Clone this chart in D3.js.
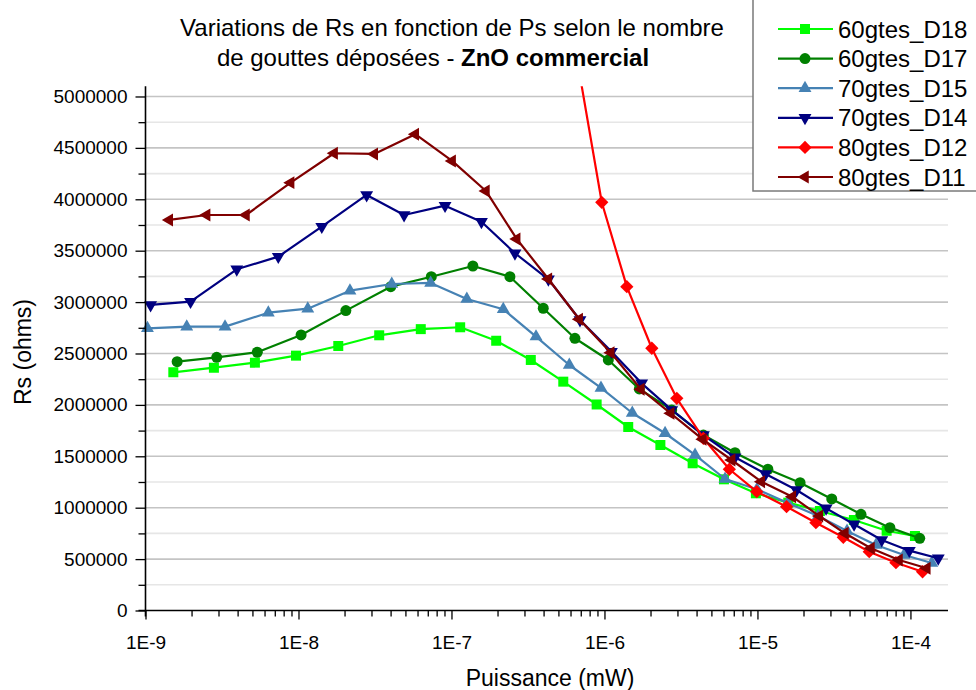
<!DOCTYPE html>
<html>
<head>
<meta charset="utf-8">
<script src="https://cdn.jsdelivr.net/npm/d3@7"></script>
<style>
  html, body { margin: 0; padding: 0; background: #fff; }
  svg { display: block; font-family: "Liberation Sans", Arial, sans-serif; }
</style>
</head>
<body>
<svg id="chart" width="976" height="690"></svg>
<script>
// ---------------- data ----------------
const seriesNames = ["60gtes_D18", "60gtes_D17", "70gtes_D15", "70gtes_D14", "80gtes_D12", "80gtes_D11"];

const pD18 = [1.52e-9, 2.80e-9, 5.19e-9, 9.63e-9, 1.82e-8, 3.37e-8, 6.30e-8, 1.14e-7, 1.96e-7, 3.30e-7, 5.38e-7, 8.89e-7, 1.43e-6, 2.32e-6, 3.77e-6, 6.04e-6, 9.77e-6, 1.59e-5, 2.56e-5, 4.27e-5, 6.99e-5, 1.07e-4];
const rD18 = [2317000, 2362000, 2411000, 2479000, 2573000, 2677000, 2737000, 2755000, 2624000, 2437000, 2226000, 2004000, 1785000, 1610000, 1432000, 1276000, 1140000, 1049000, 968000, 880000, 776000, 725000];

const pD17 = [1.61e-9, 2.92e-9, 5.38e-9, 1.04e-8, 2.04e-8, 4.01e-8, 7.38e-8, 1.38e-7, 2.41e-7, 3.98e-7, 6.41e-7, 1.06e-6, 1.69e-6, 2.75e-6, 4.43e-6, 7.13e-6, 1.17e-5, 1.90e-5, 3.06e-5, 4.75e-5, 7.34e-5, 1.15e-4];
const rD17 = [2420000, 2463000, 2512000, 2680000, 2917000, 3150000, 3247000, 3351000, 3247000, 2940000, 2648000, 2437000, 2155000, 1951000, 1707000, 1535000, 1374000, 1243000, 1085000, 936000, 806000, 702000];

const pD15 = [1.03e-9, 1.86e-9, 3.31e-9, 6.35e-9, 1.15e-8, 2.17e-8, 4.07e-8, 7.31e-8, 1.26e-7, 2.18e-7, 3.57e-7, 5.89e-7, 9.49e-7, 1.52e-6, 2.49e-6, 3.91e-6, 6.14e-6, 9.93e-6, 1.58e-5, 2.49e-5, 3.85e-5, 5.95e-5, 9.08e-5, 1.38e-4];
const rD15 = [2745000, 2761000, 2761000, 2897000, 2936000, 3111000, 3176000, 3186000, 3030000, 2930000, 2664000, 2388000, 2165000, 1921000, 1724000, 1513000, 1279000, 1180000, 1046000, 919000, 773000, 637000, 540000, 462000];

const pD14 = [1.08e-9, 1.97e-9, 3.95e-9, 7.38e-9, 1.42e-8, 2.79e-8, 4.90e-8, 9.08e-8, 1.57e-7, 2.60e-7, 4.30e-7, 6.92e-7, 1.11e-6, 1.75e-6, 2.75e-6, 4.43e-6, 7.13e-6, 1.13e-5, 1.80e-5, 2.81e-5, 4.28e-5, 6.49e-5, 9.83e-5, 1.52e-4];
const rD14 = [2972000, 3004000, 3319000, 3442000, 3734000, 4042000, 3847000, 3938000, 3782000, 3475000, 3222000, 2826000, 2518000, 2210000, 1951000, 1707000, 1490000, 1328000, 1172000, 994000, 839000, 686000, 582000, 508000];

const pD12 = [6.1e-7, 9.60e-7, 1.40e-6, 2.04e-6, 2.97e-6, 4.43e-6, 6.55e-6, 9.89e-6, 1.55e-5, 2.41e-5, 3.64e-5, 5.38e-5, 8.04e-5, 1.20e-4];
const rD12 = [5670000, 3971000, 3150000, 2551000, 2064000, 1675000, 1374000, 1156000, 1010000, 854000, 712000, 572000, 465000, 377000];

const pD11 = [1.43e-9, 2.51e-9, 4.54e-9, 8.89e-9, 1.71e-8, 3.13e-8, 5.80e-8, 1.01e-7, 1.68e-7, 2.67e-7, 4.30e-7, 6.84e-7, 1.10e-6, 1.73e-6, 2.71e-6, 4.39e-6, 6.78e-6, 1.06e-5, 1.69e-5, 2.54e-5, 3.73e-5, 5.52e-5, 8.42e-5, 1.28e-4];
const rD11 = [3799000, 3847000, 3847000, 4162000, 4448000, 4441000, 4633000, 4373000, 4081000, 3614000, 3225000, 2833000, 2508000, 2152000, 1918000, 1665000, 1464000, 1253000, 1107000, 919000, 751000, 605000, 491000, 411000];

const xTickValues = [1e-9, 1e-8, 1e-7, 1e-6, 1e-5, 1e-4];
const xTickLabels = ["1E-9", "1E-8", "1E-7", "1E-6", "1E-5", "1E-4"];
const yTickValues = [0, 500000, 1000000, 1500000, 2000000, 2500000, 3000000, 3500000, 4000000, 4500000, 5000000];
const yTickLabels = ["0", "500000", "1000000", "1500000", "2000000", "2500000", "3000000", "3500000", "4000000", "4500000", "5000000"];

const titleLine1 = "Variations de Rs en fonction de Ps selon le nombre";
const titleLine2a = "de gouttes déposées - ";
const titleLine2b = "ZnO commercial";
const xTitle = "Puissance (mW)";
const yTitle = "Rs (ohms)";

// ---------------- styles ----------------
const colors = ["#00ff00", "#008000", "#4682b4", "#000080", "#ff0000", "#800000"];
const markers = ["square", "circle", "triUp", "triDown", "diamond", "triLeft"];

const series = [
  { name: seriesNames[0], p: pD18, r: rD18 },
  { name: seriesNames[1], p: pD17, r: rD17 },
  { name: seriesNames[2], p: pD15, r: rD15 },
  { name: seriesNames[3], p: pD14, r: rD14 },
  { name: seriesNames[4], p: pD12, r: rD12 },
  { name: seriesNames[5], p: pD11, r: rD11 }
].map((s, i) => ({ ...s, color: colors[i], marker: markers[i],
  pts: s.p.map((v, j) => ({ x: v, y: s.r[j] })) }));

// ---------------- layout ----------------
const L = 145.5, R = 948, T = 86.2, B = 610.5;
const svg = d3.select("#chart");

const x = d3.scaleLog().domain([1e-9, 1.76e-4]).range([L, R]);
const y = d3.scaleLinear().domain([0, 5100000]).range([B, T]);

// gridlines
const minorY = d3.range(250000, 5100000, 500000);
svg.append("g").selectAll("line").data(minorY).join("line")
  .attr("x1", L).attr("x2", R).attr("y1", d => y(d)).attr("y2", d => y(d))
  .attr("stroke", "#e6e6e6").attr("stroke-width", 1.6);
svg.append("g").selectAll("line").data(yTickValues.slice(1)).join("line")
  .attr("x1", L).attr("x2", R).attr("y1", d => y(d)).attr("y2", d => y(d))
  .attr("stroke", "#c4c4c4").attr("stroke-width", 1.6);

// clip
svg.append("clipPath").attr("id", "plotclip").append("rect")
  .attr("x", L - 10).attr("y", T).attr("width", R - L + 20).attr("height", B - T + 10);

// symbols
function markerPath(type) {
  switch (type) {
    case "square": return d3.symbol().type(d3.symbolSquare).size(100)();
    case "circle": return d3.symbol().type(d3.symbolCircle).size(95)();
    case "diamond": return d3.symbol().type(d3.symbolSquare).size(88)();
    default: return d3.symbol().type(d3.symbolTriangle).size(72)();
  }
}
function markerRot(type) {
  if (type === "diamond") return 45;
  if (type === "triDown") return 180;
  if (type === "triLeft") return -90;
  return 0;
}

const plot = svg.append("g").attr("clip-path", "url(#plotclip)");
const line = d3.line().x(d => x(d.x)).y(d => y(d.y));

series.forEach(s => {
  const g = plot.append("g");
  g.append("path").datum(s.pts).attr("d", line)
    .attr("fill", "none").attr("stroke", s.color).attr("stroke-width", 2.2)
    .attr("stroke-linejoin", "round");
  g.selectAll("path.m").data(s.pts).join("path").attr("class", "m")
    .attr("d", markerPath(s.marker))
    .attr("transform", d => `translate(${x(d.x)},${y(d.y)}) rotate(${markerRot(s.marker)})`)
    .attr("fill", s.color);
});

// axes
const axisColor = "#000";
// y axis
const yAxisG = svg.append("g").attr("transform", `translate(${L},0)`);
yAxisG.call(d3.axisLeft(y).tickValues(yTickValues).tickSize(10).tickPadding(8)
  .tickFormat((d, i) => yTickLabels[i]));
yAxisG.append("g").call(d3.axisLeft(y).tickValues(minorY).tickSize(7).tickFormat(""));
yAxisG.selectAll(".domain").remove();
yAxisG.append("line").attr("x1", 0).attr("x2", 0).attr("y1", T).attr("y2", B + 6)
  .attr("stroke", axisColor).attr("stroke-width", 1.6);
yAxisG.selectAll(".tick line").attr("stroke", axisColor).attr("stroke-width", 1.3);
yAxisG.selectAll(".tick text").attr("font-size", 19).attr("fill", "#000")
  .attr("font-family", "Liberation Sans, Arial, sans-serif");

// x axis
const minorX = [];
for (let e = -9; e <= -4; e++) for (let k = 2; k <= 9; k++) { const v = k * Math.pow(10, e); if (v < 1.76e-4) minorX.push(v); }
const xAxisG = svg.append("g").attr("transform", `translate(0,${B})`);
xAxisG.call(d3.axisBottom(x).tickValues(xTickValues).tickSize(9).tickPadding(16)
  .tickFormat((d, i) => xTickLabels[i]));
xAxisG.append("g").call(d3.axisBottom(x).tickValues(minorX).tickSize(6).tickFormat(""));
xAxisG.selectAll(".domain").remove();
xAxisG.append("line").attr("x1", L - 7).attr("x2", R).attr("y1", 0).attr("y2", 0)
  .attr("stroke", axisColor).attr("stroke-width", 1.6);
xAxisG.selectAll(".tick line").attr("stroke", axisColor).attr("stroke-width", 1.3);
xAxisG.selectAll(".tick text").attr("font-size", 19).attr("fill", "#000")
  .attr("font-family", "Liberation Sans, Arial, sans-serif");

// axis titles
svg.append("text").attr("x", 550).attr("y", 686).attr("text-anchor", "middle")
  .attr("font-size", 23).attr("fill", "#000").text(xTitle);
svg.append("text").attr("transform", "translate(31,352) rotate(-90)").attr("text-anchor", "middle")
  .attr("font-size", 23).attr("fill", "#000").text(yTitle);

// title
svg.append("text").attr("x", 452).attr("y", 36).attr("text-anchor", "middle")
  .attr("font-size", 24).attr("fill", "#000").text(titleLine1);
const t2 = svg.append("text").attr("x", 433).attr("y", 66).attr("text-anchor", "middle")
  .attr("font-size", 24).attr("fill", "#000");
t2.append("tspan").text(titleLine2a);
t2.append("tspan").attr("font-weight", "bold").text(titleLine2b);

// legend
const lg = svg.append("g");
lg.append("rect").attr("x", 753).attr("y", -3).attr("width", 230).attr("height", 194)
  .attr("fill", "#fff").attr("stroke", "#7a7a7a").attr("stroke-width", 1.5);
series.forEach((s, i) => {
  const cy = 29 + i * 29.6;
  lg.append("line").attr("x1", 778).attr("x2", 833).attr("y1", cy).attr("y2", cy)
    .attr("stroke", s.color).attr("stroke-width", 2.2);
  lg.append("path").attr("d", markerPath(s.marker))
    .attr("transform", `translate(805,${cy}) rotate(${markerRot(s.marker)})`)
    .attr("fill", s.color);
  lg.append("text").attr("x", 838).attr("y", cy + 8.5).attr("font-size", 24)
    .attr("fill", "#000").text(s.name);
});
</script>
</body>
</html>
